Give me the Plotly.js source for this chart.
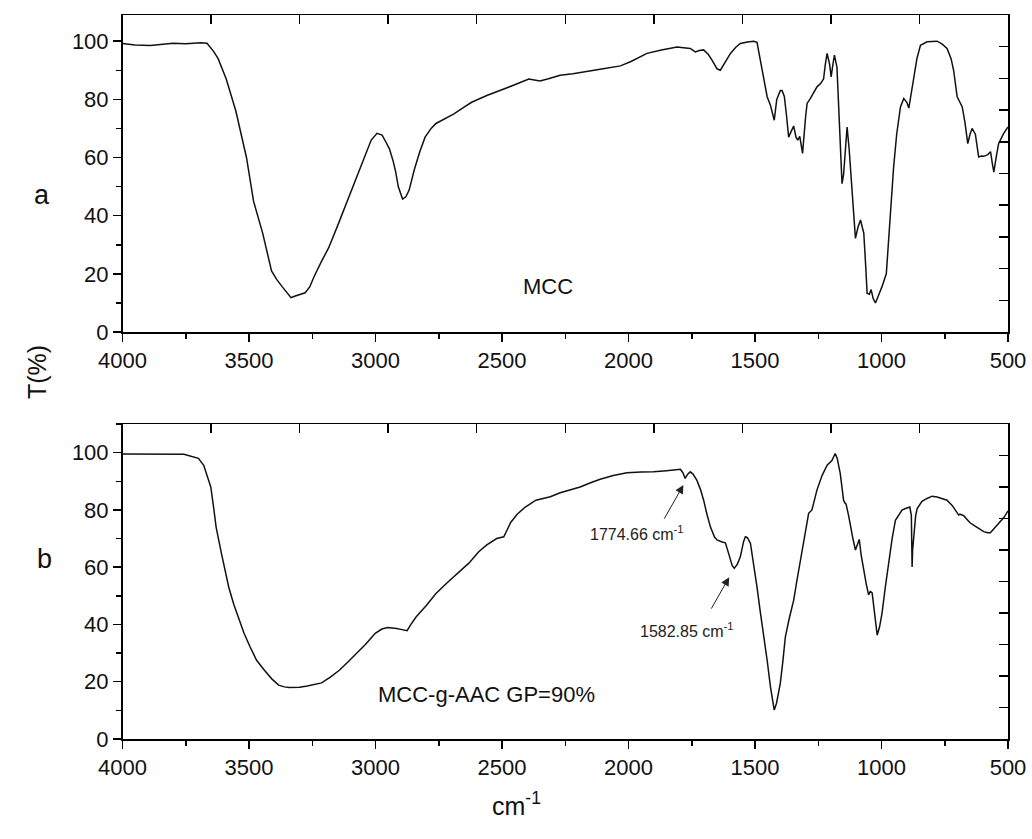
<!DOCTYPE html>
<html><head><meta charset="utf-8">
<script src="https://cdn.plot.ly/plotly-3.0.1.min.js"></script>
<style>html,body{margin:0;padding:0;background:#fff}#chart{width:1032px;height:839px}</style>
</head><body><div id="chart"></div>
<script>
// Panel a: MCC
const mccWavenumber = [4000,3950,3890,3850,3800,3750,3720,3690,3666,3640,3622,3590,3552,3530,3510,3482,3446,3411,3390,3369,3350,3334,3320,3300,3278,3260,3243,3215,3185,3150,3116,3085,3058,3035,3017,2994,2974,2960,2945,2931,2920,2910,2900,2893,2880,2867,2847,2825,2804,2780,2761,2720,2690,2650,2620,2560,2507,2450,2394,2370,2350,2320,2270,2220,2164,2100,2032,1990,1927,1870,1808,1780,1756,1736,1720,1703,1685,1670,1650,1637,1620,1597,1575,1558,1530,1505,1492,1470,1452,1439,1424,1414,1400,1393,1384,1375,1367,1357,1347,1338,1331,1323,1312,1300,1294,1281,1255,1240,1229,1222,1215,1205,1199,1192,1186,1176,1170,1165,1156,1150,1143,1136,1128,1123,1113,1103,1093,1083,1076,1070,1062,1057,1048,1041,1033,1024,1010,998,981,970,960,952,940,925,912,900,892,882,873,860,846,820,780,760,741,725,715,701,690,681,670,659,650,642,629,622,616,605,596,580,569,562,556,545,537,517,500];
const mccTransmittance = [99.2,98.7,98.5,98.9,99.3,99.1,99.4,99.5,99.3,96.5,94,87,76,68,60,45,34,21,18,15.6,13.5,11.8,12.3,12.8,13.5,15.5,19,24,29,36.5,44,51,56.8,62,66,68.3,67.7,65.5,63,59,55,50,47,45.7,46.5,48.8,55.7,62,67,70,71.7,73.5,75,77.3,79,81.3,83,85,87,86.5,86.3,87,88.3,88.8,89.5,90.5,91.5,93,95.8,97,98,97.8,97.5,96.3,96.8,97,95.5,93.5,90.5,90,92.5,95.8,98,99.2,99.7,100,99.6,90,80.9,78,72.8,80,83,83,81,74,67,69,70.8,67,66,67.3,61.4,74,78.6,80.3,84.3,85.5,87,92,95.8,92,87.7,92,95.2,91,78,64.8,51,54,62,70.5,63,56.8,44,32.2,36,38.5,36,34,22,13.3,13,14.6,11.5,10,13,15.6,20,35,48,56.8,68,77.4,80.3,79,77,82,87.7,94,98.6,99.8,100,99,97.5,94,90,80.9,79,77.4,72,64.8,68,70,68,63,60.2,60.5,60.4,61,62,58,55,61,64.8,68.3,70.5];

// Panel b: MCC-g-AAC GP=90%
const aacWavenumber = [4000,3900,3800,3757,3740,3719,3700,3679,3665,3651,3640,3630,3609,3595,3580,3560,3538,3520,3496,3470,3439,3410,3383,3360,3341,3300,3270,3240,3213,3180,3143,3110,3073,3040,3001,2975,2952,2930,2917,2895,2875,2860,2839,2800,2761,2720,2677,2630,2592,2560,2521,2493,2480,2465,2440,2408,2366,2309,2270,2230,2191,2150,2112,2060,2006,1950,1901,1850,1810,1795,1785,1776,1766,1756,1745,1730,1715,1703,1690,1676,1660,1650,1630,1617,1605,1597,1590,1582,1570,1558,1545,1538,1530,1518,1505,1492,1480,1466,1452,1439,1430,1424,1415,1400,1390,1380,1365,1347,1335,1321,1305,1288,1275,1265,1255,1235,1215,1196,1188,1183,1175,1163,1155,1150,1145,1140,1130,1123,1113,1103,1095,1088,1080,1071,1060,1051,1044,1037,1027,1017,1008,998,985,971,958,945,930,919,905,888,882,880,879,877,870,865,859,840,820,800,780,760,741,720,705,695,690,675,660,650,636,616,596,580,570,560,545,530,515,500];
const aacTransmittance = [99.5,99.5,99.5,99.4,99,98.6,98,95.6,92,88,81,74,64.8,58.5,53,47,41.5,37,32.2,27.5,24,21,18.8,18.2,18,18.1,18.5,19,19.6,21.5,24,26.8,29.9,33,36.9,38.4,38.9,38.8,38.6,38.2,37.8,40,42.7,46.5,50.8,54.3,57.8,61.5,65.4,67.8,70,70.6,73,75.7,78.5,81,83.4,84.6,86,87,88,89.5,90.7,92,93,93.2,93.3,93.7,94.2,94.2,93,91,92.5,93.3,92.5,90.4,87,83.4,78.5,74,70.5,69.5,68.8,68.5,65,62.5,60.5,59.6,61,63.6,69,70.6,70.3,68.3,61,53,45,36.9,27.5,18.3,13,10.1,12.5,19.4,27,35.7,42,48.5,55,62.5,71,78.8,80,84,87,92,95.6,97.2,98.5,99.7,98,92.7,87,83.4,82.5,82,78,74,70,66,68,69.7,64,59,54,50.3,51.5,51,44,36.3,39,43.9,53,62.5,70,76.4,78.5,79.9,80.5,81,78,65,60.1,66,73,78,80.5,83,84,84.8,84.5,84,83.4,81.5,79.5,78.2,78.5,78,76.5,75.5,74.7,73.5,72.4,72,72,73,74.5,75.8,77.5,79.7];

const xTickVals = [4000,3500,3000,2500,2000,1500,1000,500];
const yTickVals = [0,20,40,60,80,100];

const FONT = 'Liberation Sans, Arial, sans-serif';
const xr = [4000, 500];
const yrTop = [0, 109];
const yrBot = [0, 110];
const xDom = [122.5/1032, 1008/1032];
const yDomTop = [1-332/839, 1-15/839];
const yDomBot = [1-739/839, 1-424/839];

function mainX(anchor){
  return {domain:xDom, range:xr, anchor:anchor, showgrid:false, zeroline:false,
    showline:true, linecolor:'#000', linewidth:1.5, mirror:false,
    tickmode:'array', tickvals:xTickVals, ticktext:xTickVals.map(String),
    ticks:'outside', ticklen:8, tickwidth:1.5, tickcolor:'#000',
    minor:{dtick:250, tick0:500, ticks:'outside', ticklen:5, tickwidth:1.5, tickcolor:'#000'},
    tickfont:{family:FONT, size:22, color:'#111'}};
}
function mainY(anchor, rng){
  return {domain:anchor==='x'?yDomTop:yDomBot, range:rng, anchor:anchor, showgrid:false, zeroline:false,
    showline:true, linecolor:'#000', linewidth:1.5,
    tickmode:'array', tickvals:yTickVals, ticktext:yTickVals.map(String),
    ticks:'outside', ticklen:8, tickwidth:1.5, tickcolor:'#000',
    minor:{dtick:10, tick0:0, ticks:'outside', ticklen:5, tickwidth:1.5, tickcolor:'#000'},
    tickfont:{family:FONT, size:22, color:'#111'}};
}
function topX(over, anchor){
  return {overlaying:over, anchor:anchor, side:'top', range:xr, showgrid:false, zeroline:false,
    showline:true, linecolor:'#000', linewidth:1.5, tick0:500, dtick:350,
    ticks:'inside', ticklen:9, tickwidth:1.5, tickcolor:'#000', showticklabels:false};
}
function rightY(over, anchor, rng){
  return {overlaying:over, anchor:anchor, side:'right', range:rng, showgrid:false, zeroline:false,
    showline:true, linecolor:'#000', linewidth:1.5, tick0:0, dtick:rng[1]/10,
    ticks:'inside', ticklen:9, tickwidth:1.5, tickcolor:'#000', showticklabels:false};
}

const traces = [
  {x:mccWavenumber, y:mccTransmittance, xaxis:'x', yaxis:'y', type:'scatter', mode:'lines',
   line:{color:'#111', width:1.5}, hoverinfo:'skip'},
  {x:aacWavenumber, y:aacTransmittance, xaxis:'x2', yaxis:'y2', type:'scatter', mode:'lines',
   line:{color:'#111', width:1.5}, hoverinfo:'skip'},
  {x:[], y:[], xaxis:'x3', yaxis:'y3', type:'scatter', mode:'lines', hoverinfo:'skip'},
  {x:[], y:[], xaxis:'x4', yaxis:'y4', type:'scatter', mode:'lines', hoverinfo:'skip'}
];

const labelFont = {family:FONT, size:22, color:'#111'};
const bigFont = {family:FONT, size:27, color:'#111'};
const smallFont = {family:FONT, size:16, color:'#222'};

const layout = {
  width:1032, height:839, showlegend:false,
  paper_bgcolor:'#fff', plot_bgcolor:'#fff',
  margin:{l:0, r:0, t:0, b:0, autoexpand:false},
  xaxis: mainX('y'), yaxis: mainY('x', yrTop),
  xaxis2: mainX('y2'), yaxis2: mainY('x2', yrBot),
  xaxis3: topX('x','y3'), yaxis3: rightY('y','x3', yrTop),
  xaxis4: topX('x2','y4'), yaxis4: rightY('y2','x4', yrBot),
  annotations:[
    {xref:'x', yref:'y', x:2317, y:15.5, text:'MCC', showarrow:false, font:labelFont},
    {xref:'x2', yref:'y2', x:2562, y:15.4, text:'MCC-g-AAC GP=90%', showarrow:false, font:labelFont},
    {xref:'x2', yref:'y2', x:1783, y:88.7, axref:'x2', ayref:'y2', ax:1862, ay:76.4, text:'',
     showarrow:true, arrowhead:2, arrowsize:1.7, arrowwidth:1, arrowcolor:'#222'},
    {xref:'x2', yref:'y2', x:1966, y:72, text:'1774.66 cm<sup>-1</sup>', showarrow:false, font:smallFont},
    {xref:'x2', yref:'y2', x:1602, y:56.5, axref:'x2', ayref:'y2', ax:1676, ay:45, text:'',
     showarrow:true, arrowhead:2, arrowsize:1.7, arrowwidth:1, arrowcolor:'#222'},
    {xref:'x2', yref:'y2', x:1770, y:38, text:'1582.85 cm<sup>-1</sup>', showarrow:false, font:smallFont},
    {xref:'paper', yref:'paper', x:32/1032, y:1-178/839, text:'a', showarrow:false, font:bigFont},
    {xref:'paper', yref:'paper', x:35/1032, y:1-576/839, text:'b', showarrow:false, font:bigFont},
    {xref:'paper', yref:'paper', x:21/1032, y:1-372/839, text:'T(%)', textangle:-90, showarrow:false, font:{family:FONT, size:25, color:'#111'}},
    {xref:'paper', yref:'paper', x:516/1032, y:1-822/839, text:'cm<sup>-1</sup>', showarrow:false, font:{family:FONT, size:25, color:'#111'}}
  ]
};

Plotly.newPlot('chart', traces, layout, {staticPlot:true, displayModeBar:false});
</script>
</body></html>
